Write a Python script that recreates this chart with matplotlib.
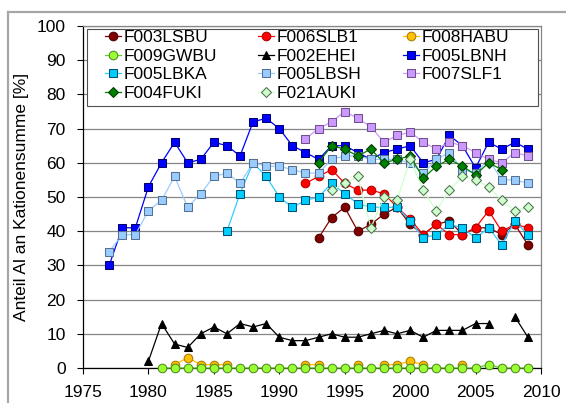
import numpy as np
import matplotlib
matplotlib.use("Agg")
import matplotlib.pyplot as plt
from matplotlib.lines import Line2D
from matplotlib.patches import Rectangle

plt.rcParams['font.family'] = ['Liberation Sans', 'DejaVu Sans']

nan = np.nan

# ---- data: share of Al in the cation sum [%] per year ----
f003lsbu_years = list(range(1993, 2010))
f003lsbu = [38, 44, 47, 40, 42, 45, 47, 42, 39, 42, 43, 39, 41, 41, 39, 42, 36]

f006slb1_years = list(range(1992, 2010))
f006slb1 = [54, 56, 58, 54, 52, 52, 51, 47, 43.5, 39, 42, 39, 39, 41, 46, 40, 42, 41]

f008habu_years = list(range(1982, 2005))
f008habu = [1, 3, 1, 1, 1, nan, nan, nan, nan, nan, 1, 1, nan, nan, 1, nan,
            1, 1, 2, 1, nan, nan, 1]

f009gwbu_years = list(range(1981, 2010))
f009gwbu = [0] * 25 + [1, 0, 0, 0]

f002ehei_years = list(range(1980, 2010))
f002ehei = [2, 13, 7, 6, 10, 12, 10, 13, 12, 13, 9, 8, 8, 9, 10, 9, 9, 10,
            11, 10, 11, 9, 11, 11, 11, 13, 13, nan, 15, 9]

f005lbnh_years = list(range(1977, 2010))
f005lbnh = [30, 41, 41, 53, 60, 66, 60, 61, 66, 65, 62, 72, 73, 70, 65, 63,
            61, 65, 65, 63, 61, 63, 64, 65, 60, 61, 68, 65, 58.5, 66, 64, 66, 64]

f005lbka_years = list(range(1986, 2010))
f005lbka = [40, 51, 60, 56, 50, 47, 49, 50, 54, 51, 48, 47, 47, 47, 43, 38,
            39, 42, 41, 38, 41, 36, 43, 39]

f005lbsh_years = list(range(1977, 2010))
f005lbsh = [34, 39, 39, 46, 49, 56, 47, 51, 56, 57, 54, 60, 59, 59, 58, 57,
            57, 61, 62, 62, 61, 61, 61, 60, 57, 61, 63, 58, 57, 61, 55, 55, 54]

f007slf1_years = list(range(1992, 2010))
f007slf1 = [67, 70, 72, 75, 73, 70.5, 66, 68, 69, 66, 64, 66, 65, 63, 61, 60, 63, 62]

f004fuki_years = list(range(1993, 2008))
f004fuki = [60, 65, 64, 62, 64, 60, 61, 62, 55.5, 59, 61, 59, 56.5, 60, 58]

f021auki_years = list(range(1994, 2010))
f021auki = [52, 54, 56, 41, 50, 49, 61, 52, 46, 52, 56, 55, 53, 49, 46, 47]

x_ticks = [1975, 1980, 1985, 1990, 1995, 2000, 2005, 2010]
y_ticks = list(range(0, 101, 10))

series = [
    ("F003LSBU", f003lsbu_years, f003lsbu,
     dict(marker='o', ms=6.2, mfc='#800000', mec='#4a0000', color='#800000')),
    ("F006SLB1", f006slb1_years, f006slb1,
     dict(marker='o', ms=6.2, mfc='#FF0000', mec='#B00000', color='#FF0000')),
    ("F008HABU", f008habu_years, f008habu,
     dict(marker='o', ms=6.2, mfc='#FFC000', mec='#A87A00', color='#FFC000')),
    ("F009GWBU", f009gwbu_years, f009gwbu,
     dict(marker='o', ms=6.2, mfc='#99FF33', mec='#4E8A1E', color='#66CC33')),
    ("F002EHEI", f002ehei_years, f002ehei,
     dict(marker='^', ms=6.2, mfc='black', mec='black', color='black')),
    ("F005LBNH", f005lbnh_years, f005lbnh,
     dict(marker='s', ms=6.0, mfc='#0000FF', mec='#000070', color='#0000FF')),
    ("F005LBKA", f005lbka_years, f005lbka,
     dict(marker='s', ms=6.0, mfc='#00CCFF', mec='#00506E', color='#33CCFF')),
    ("F005LBSH", f005lbsh_years, f005lbsh,
     dict(marker='s', ms=6.0, mfc='#99CCFF', mec='#557090', color='#99CCFF')),
    ("F007SLF1", f007slf1_years, f007slf1,
     dict(marker='s', ms=6.0, mfc='#CC99FF', mec='#70508C', color='#CC99FF')),
    ("F004FUKI", f004fuki_years, f004fuki,
     dict(marker='D', ms=4.8, mfc='#008000', mec='#003800', color='#008000')),
    ("F021AUKI", f021auki_years, f021auki,
     dict(marker='D', ms=4.8, mfc='#CCFFCC', mec='#4D704D', color='#CCFFCC')),
]

W, H = 566, 403
fig = plt.figure(figsize=(W / 100, H / 100), dpi=100)

# outer chart border (clipped on the right and bottom)
fig.add_artist(Line2D([7.5 / W, 7.5 / W], [0, 1 - 11.5 / H], transform=fig.transFigure,
                      color='#A6A6A6', lw=1.6))
fig.add_artist(Line2D([7.5 / W, 1], [1 - 11.5 / H, 1 - 11.5 / H], transform=fig.transFigure,
                      color='#A6A6A6', lw=1.6))

L, R, T, B = 83, 541, 26, 368
ax = fig.add_axes([L / W, 1 - B / H, (R - L) / W, (B - T) / H])


def ax_x(px):
    return (px - L) / (R - L)


def ax_y(py):
    return (B - py) / (B - T)


handles = {}
for i, (name, xs, ys, st) in enumerate(series):
    ln, = ax.plot(xs, ys, lw=0.9, mew=0.75, label=name, zorder=3 + i * 0.01,
                  clip_on=False, **st)
    handles[name] = ln

ax.set_xlim(1975, 2010)
ax.set_ylim(0, 100)
ax.set_xticks(x_ticks)
ax.set_yticks(y_ticks)
ax.yaxis.grid(True, color='#868686', lw=0.9)
ax.set_axisbelow(True)

for s in ('left', 'bottom'):
    ax.spines[s].set_color('black')
    ax.spines[s].set_linewidth(0.9)
for s in ('top', 'right'):
    ax.spines[s].set_color('#868686')
    ax.spines[s].set_linewidth(0.9)

ax.tick_params(axis='both', direction='out', length=4.5, width=0.8, colors='black',
               labelsize=12.5)
ax.tick_params(axis='x', pad=8)
ax.tick_params(axis='y', pad=8)

fig.text(22 / W, 1 - 197 / H, 'Anteil Al an Kationensumme [%]', rotation=90,
         ha='center', va='center', fontsize=12.5)

# legend box
ax.add_patch(Rectangle((ax_x(87), ax_y(106)), (538 - 87) / (R - L), (106 - 29) / (B - T),
                       transform=ax.transAxes, facecolor='white', edgecolor='#505050',
                       lw=0.8, zorder=10))
order = ["F003LSBU", "F009GWBU", "F005LBKA", "F004FUKI",
         "F006SLB1", "F002EHEI", "F005LBSH", "F021AUKI",
         "F008HABU", "F005LBNH", "F007SLF1"]
leg = ax.legend([handles[n] for n in order], order, ncol=3, loc='upper left',
                bbox_to_anchor=(ax_x(105), ax_y(30)), frameon=False, fontsize=12.5,
                handlelength=0.9, handletextpad=0.15, columnspacing=2.4,
                labelspacing=0.2, borderpad=0, borderaxespad=0)
leg.set_zorder(11)

fig.savefig('out.png', dpi=100)
